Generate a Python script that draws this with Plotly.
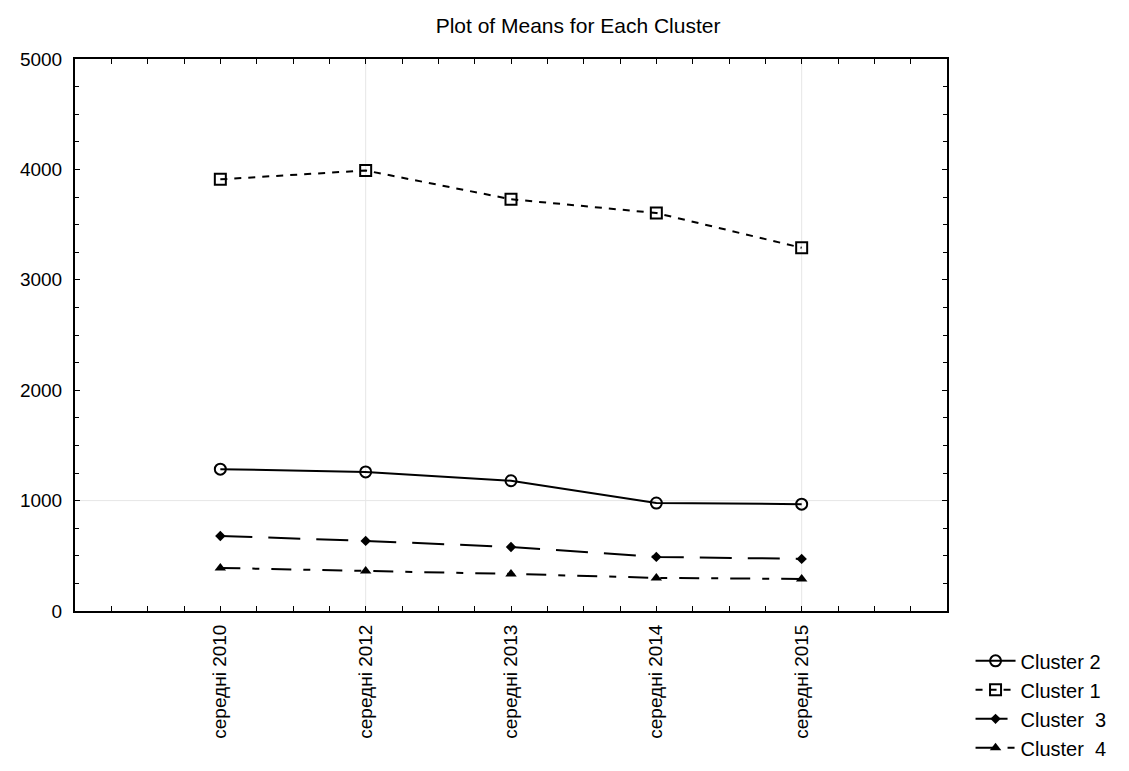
import plotly.graph_objects as go

categories = ["середні 2010", "середні 2012", "середні 2013", "середні 2014", "середні 2015"]
cluster1 = [3910, 3990, 3730, 3605, 3290]
cluster2 = [1285, 1260, 1180, 978, 968]
cluster3 = [680, 635, 580, 490, 472]
cluster4 = [390, 362, 336, 300, 290]
y_ticks = [0, 1000, 2000, 3000, 4000, 5000]

xpos = list(range(len(categories)))

fig = go.Figure()
fig.add_trace(go.Scatter(x=xpos, y=cluster2, name="Cluster 2", mode="lines+markers",
                         line=dict(color="black", width=2, dash="solid"),
                         marker=dict(symbol="circle-open", size=11, color="black", line=dict(width=2))))
fig.add_trace(go.Scatter(x=xpos, y=cluster1, name="Cluster 1", mode="lines+markers",
                         line=dict(color="black", width=2, dash="7px,7px"),
                         marker=dict(symbol="square-open", size=11, color="black", line=dict(width=2))))
fig.add_trace(go.Scatter(x=xpos, y=cluster3, name="Cluster  3", mode="lines+markers",
                         line=dict(color="black", width=2, dash="32px,16px"),
                         marker=dict(symbol="diamond", size=8, color="black")))
fig.add_trace(go.Scatter(x=xpos, y=cluster4, name="Cluster  4", mode="lines+markers",
                         line=dict(color="black", width=2, dash="20px,12px,7px,12px"),
                         marker=dict(symbol="triangle-up", size=10, color="black")))

# light reference grid lines
for xv in [1, 4]:
    fig.add_shape(type="line", xref="x", yref="paper", x0=xv, x1=xv, y0=0, y1=1,
                  line=dict(color="#e6e6e6", width=1), layer="below")
fig.add_shape(type="line", xref="paper", yref="y", x0=0, x1=1, y0=1000, y1=1000,
              line=dict(color="#e6e6e6", width=1), layer="below")

fig.update_layout(
    width=1129, height=771,
    margin=dict(l=75, r=182, t=59, b=160, autoexpand=False),
    paper_bgcolor="white", plot_bgcolor="white",
    font=dict(family="Liberation Sans, Arial, sans-serif", size=19, color="black"),
    title=dict(text="Plot of Means for Each Cluster", x=0.512, xanchor="center", xref="container",
               y=0.967, yanchor="middle", font=dict(size=21, color="black")),
    showlegend=True,
    legend=dict(x=1.027, xanchor="left", y=-0.055, yanchor="top", font=dict(size=20),
                itemwidth=40, tracegroupgap=0, bgcolor="rgba(0,0,0,0)"),
    xaxis=dict(range=[-1, 5], tickvals=xpos, ticktext=categories, tickangle=-90,
               automargin=False, ticklabelstandoff=4,
               showgrid=False, zeroline=False, showline=True, linecolor="black", linewidth=2,
               mirror="allticks", ticks="inside", ticklen=5, tickcolor="black",
               minor=dict(dtick=0.25, ticks="inside", ticklen=5, tickcolor="black", showgrid=False),
               tickfont=dict(size=19)),
    yaxis=dict(range=[0, 5000], tickvals=y_ticks, showgrid=False, zeroline=False,
               automargin=False, ticklabelstandoff=7,
               showline=True, linecolor="black", linewidth=2, mirror="allticks",
               ticks="inside", ticklen=5, tickcolor="black",
               minor=dict(dtick=250, ticks="inside", ticklen=4, tickcolor="black", showgrid=False),
               tickfont=dict(size=19)),
)

fig.write_html("out.html")
